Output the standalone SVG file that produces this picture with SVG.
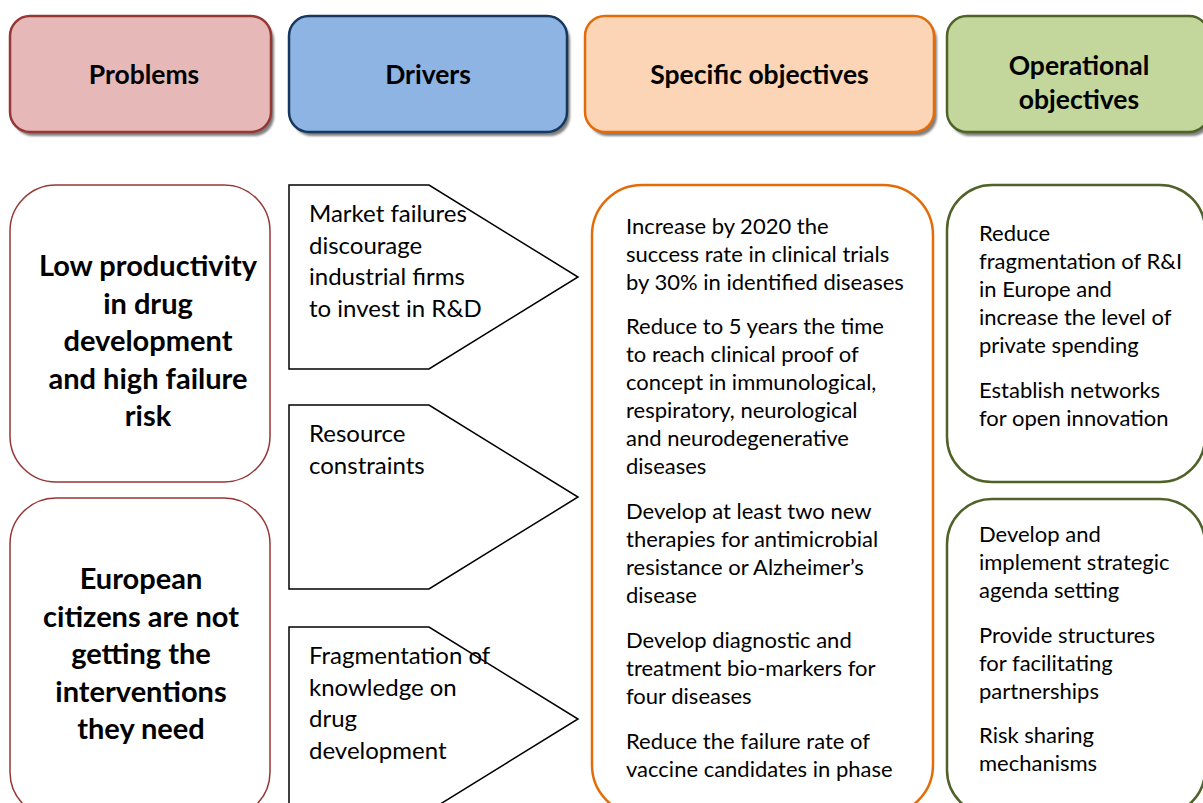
<svg xmlns="http://www.w3.org/2000/svg" width="1203" height="803" viewBox="0 0 1203 803">
<defs>
<filter id="sh" x="-10%" y="-10%" width="130%" height="130%"><feGaussianBlur stdDeviation="1"/></filter>
<style>
.hdr{stroke-width:2.5}
.shadow{fill:#7f7f7f;filter:url(#sh)}
.ht{font-family:Lato,"Open Sans","Liberation Sans",sans-serif;font-weight:bold;font-size:26.5px;fill:#000;text-anchor:middle}
.pt{font-family:Lato,"Open Sans","Liberation Sans",sans-serif;font-weight:bold;font-size:29px;fill:#000;text-anchor:middle}
.dt{font-family:Lato,"Open Sans","Liberation Sans",sans-serif;font-size:24px;fill:#000}
.ot{font-family:Lato,"Open Sans","Liberation Sans",sans-serif;font-size:22px;fill:#000}
.pent{fill:#fff;stroke:#000;stroke-width:1.5}
</style>
</defs>
<rect width="1203" height="803" fill="#fff"/>

<g id="hdr-problems">
<rect class="shadow" x="13" y="20" width="261" height="116" rx="20"/>
<rect class="hdr" x="10" y="16" width="261" height="116" rx="20" fill="#E6B9B8" stroke="#953735"/>
<text class="ht" x="144" y="84">Problems</text>
</g>
<g id="hdr-drivers">
<rect class="shadow" x="292" y="20" width="278" height="116" rx="20"/>
<rect class="hdr" x="289" y="16" width="278" height="116" rx="20" fill="#8DB4E2" stroke="#17375E"/>
<text class="ht" x="428" y="84">Drivers</text>
</g>
<g id="hdr-specific">
<rect class="shadow" x="588" y="20" width="349" height="116" rx="20"/>
<rect class="hdr" x="585" y="16" width="349" height="116" rx="20" fill="#FBD5B5" stroke="#E36C09"/>
<text class="ht" x="759.5" y="84">Specific objectives</text>
</g>
<g id="hdr-operational">
<rect class="shadow" x="950" y="20" width="262" height="116" rx="20"/>
<rect class="hdr" x="947" y="16" width="262" height="116" rx="20" fill="#C3D69B" stroke="#4F6228"/>
<text class="ht" x="1079" y="75">Operational</text>
<text class="ht" x="1079" y="109">objectives</text>
</g>

<g id="problem-1">
<rect x="10" y="185" width="260" height="297" rx="46" fill="#fff" stroke="#953735" stroke-width="1.5"/>
<text class="pt"><tspan x="148" y="276">Low productivity</tspan><tspan x="148" y="313.5">in drug</tspan><tspan x="148" y="351">development</tspan><tspan x="148" y="388.5">and high failure</tspan><tspan x="148" y="426">risk</tspan></text>
</g>
<g id="problem-2">
<rect x="10" y="498" width="260" height="320" rx="46" fill="#fff" stroke="#953735" stroke-width="1.5"/>
<text class="pt"><tspan x="141" y="589">European</tspan><tspan x="141" y="626.5">citizens are not</tspan><tspan x="141" y="664">getting the</tspan><tspan x="141" y="701.5">interventions</tspan><tspan x="141" y="739">they need</tspan></text>
</g>

<g id="driver-1">
<polygon class="pent" points="289,185 429,185 578,277 429,369 289,369"/>
<text class="dt"><tspan x="309" y="222">Market failures</tspan><tspan x="309" y="253.5">discourage</tspan><tspan x="309" y="285">industrial firms</tspan><tspan x="309" y="316.5">to invest in R&amp;D</tspan></text>
</g>
<g id="driver-2">
<polygon class="pent" points="289,405 429,405 578,497 429,589 289,589"/>
<text class="dt"><tspan x="309" y="442">Resource</tspan><tspan x="309" y="473.5">constraints</tspan></text>
</g>
<g id="driver-3">
<polygon class="pent" points="289,627 429,627 578,719 429,811 289,811"/>
<text class="dt"><tspan x="309" y="664">Fragmentation of</tspan><tspan x="309" y="695.5">knowledge on</tspan><tspan x="309" y="727">drug</tspan><tspan x="309" y="758.5">development</tspan></text>
</g>

<g id="specific-objectives">
<rect x="592" y="185" width="341" height="630" rx="50" fill="#fff" stroke="#E36C09" stroke-width="2.5"/>
<text class="ot">
<tspan x="626" y="234">Increase by 2020 the</tspan>
<tspan x="626" y="262">success rate in clinical trials</tspan>
<tspan x="626" y="290">by 30% in identified diseases</tspan>
<tspan x="626" y="334">Reduce to 5 years the time</tspan>
<tspan x="626" y="362">to reach clinical proof of</tspan>
<tspan x="626" y="390">concept in immunological,</tspan>
<tspan x="626" y="418">respiratory, neurological</tspan>
<tspan x="626" y="446">and neurodegenerative</tspan>
<tspan x="626" y="474">diseases</tspan>
<tspan x="626" y="519">Develop at least two new</tspan>
<tspan x="626" y="547">therapies for antimicrobial</tspan>
<tspan x="626" y="575">resistance or Alzheimer’s</tspan>
<tspan x="626" y="603">disease</tspan>
<tspan x="626" y="648">Develop diagnostic and</tspan>
<tspan x="626" y="676">treatment bio-markers for</tspan>
<tspan x="626" y="704">four diseases</tspan>
<tspan x="626" y="749">Reduce the failure rate of</tspan>
<tspan x="626" y="777">vaccine candidates in phase</tspan>
</text>
</g>

<g id="operational-1">
<rect x="947" y="185" width="258" height="297" rx="45" fill="#fff" stroke="#4F6228" stroke-width="2.5"/>
<text class="ot">
<tspan x="979" y="241">Reduce</tspan>
<tspan x="979" y="269">fragmentation of R&amp;I</tspan>
<tspan x="979" y="297">in Europe and</tspan>
<tspan x="979" y="325">increase the level of</tspan>
<tspan x="979" y="353">private spending</tspan>
<tspan x="979" y="398">Establish networks</tspan>
<tspan x="979" y="426">for open innovation</tspan>
</text>
</g>
<g id="operational-2">
<rect x="947" y="499" width="258" height="316" rx="45" fill="#fff" stroke="#4F6228" stroke-width="2.5"/>
<text class="ot">
<tspan x="979" y="542">Develop and</tspan>
<tspan x="979" y="570">implement strategic</tspan>
<tspan x="979" y="598">agenda setting</tspan>
<tspan x="979" y="643">Provide structures</tspan>
<tspan x="979" y="671">for facilitating</tspan>
<tspan x="979" y="699">partnerships</tspan>
<tspan x="979" y="743">Risk sharing</tspan>
<tspan x="979" y="771">mechanisms</tspan>
</text>
</g>

<g id="connectors"></g>
</svg>
